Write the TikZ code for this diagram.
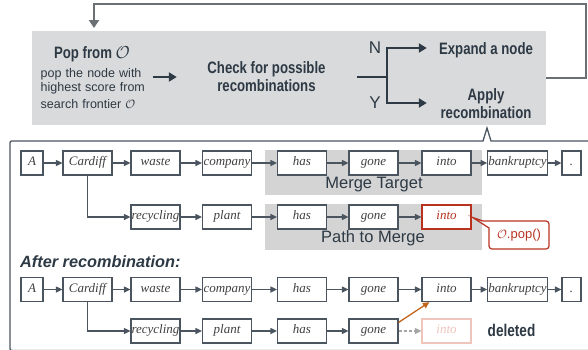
\documentclass[tikz,border=0pt]{standalone}
\usepackage{fontspec}
\setmainfont{Liberation Sans}
\newfontfamily\headfont[FakeStretch=0.8]{Liberation Sans}
\newfontfamily\wordfont{Liberation Serif}
\usetikzlibrary{arrows.meta,calc}

\definecolor{slate}{HTML}{2D3944}
\definecolor{boxline}{HTML}{4A5560}
\definecolor{ctrlgray}{HTML}{D9DADB}
\definecolor{mergegray}{HTML}{D4D4D4}
\definecolor{loopgray}{HTML}{6B7074}
\definecolor{popred}{HTML}{B8321F}
\definecolor{fadered}{HTML}{EEC4BB}
\definecolor{mergeorange}{HTML}{C2651A}

\tikzset{
  word/.style={draw=boxline,fill=white,line width=1.2pt,minimum width=49,minimum height=24,inner sep=0.5pt,
    text height=8.5,text depth=3,font=\wordfont\itshape\fontsize{13}{14}\selectfont,text=black!75},
  link/.style={-{Triangle[width=6pt,length=6.5pt]},draw=boxline,line width=1.2pt},
  head/.style={font=\headfont\bfseries\fontsize{16.5}{18}\selectfont,text=slate,align=center},
  flow/.style={-{Triangle[width=9pt,length=8pt]},draw=slate,line width=2.5pt},
  shadetext/.style={font=\fontsize{16.5}{18}\selectfont,text=slate},
}

\begin{document}
\begin{tikzpicture}[x=1pt,y=-1pt]
  \useasboundingbox (0,0) rectangle (588,349);

  % search loop
  \node[fill=ctrlgray,minimum width=514,minimum height=94,inner sep=0] (ctrl) at (289,78) {};
  \node[head,anchor=base] (pophead) at (92,58) {Pop from $\mathcal{O}$};
  \node[anchor=north west,inner sep=0,text width=112,align=left,text=slate,
    font=\fontsize{12.5}{14}\selectfont] (poptext) at (40.5,68)
    {pop the node with\\ highest score from\\[3pt] search frontier $\mathcal{O}$};
  \node[head,minimum width=173] (check) at (266.5,77) {Check for possible\\ recombinations};
  \coordinate (fork) at (387,77);
  \node[head,minimum width=118] (expand) at (486,50) {Expand a node};
  \node[head,minimum width=118] (apply) at (486,104) {Apply\\ recombination};
  \node[font=\fontsize{17}{17}\selectfont,text=slate] (nlab) at (375,48) {N};
  \node[font=\fontsize{17}{17}\selectfont,text=slate] (ylab) at (375,103) {Y};

  \draw[flow,shorten >=3pt] (check.west -| poptext.east) -- (check.west);
  \draw[flow,-] (check.east) ++(4,0) -- (fork);
  \draw[flow] (fork) |- (nlab.east -| expand.west);
  \draw[flow] (fork) |- (ylab.east -| apply.west);

  % back to the frontier
  \coordinate (loopR) at (586,4);
  \coordinate (popin) at (94,28);
  \draw[-{Triangle[width=10pt,length=8pt]},draw=loopgray,line width=2.5pt] (ctrl.east) -| (loopR) -| (popin);

  % lower panel
  \draw[boxline,line width=1.3pt] (600,141) -- (491,141) -- (487,128) -- (483,141) -- (14,141)
    .. controls (10,141) .. (10,145) -- (10,346.5) .. controls (10,350.5) .. (14,350.5) -- (600,350.5);

  \fill[mergegray] (265,150) rectangle (482,195);
  \fill[mergegray] (265,204) rectangle (482,250);
  \node[shadetext] (mtarget) at (374,184.5) {Merge Target};
  \node[shadetext] (mpath) at (373,238.5) {Path to Merge};

  \node[word,minimum width=22] (a1) at (32,163) {A};
  \node[word] (cardiff1) at (87.5,163) {Cardiff};
  \node[word] (waste1) at (155.5,163) {waste};
  \node[word] (company1) at (227,163) {company};
  \node[word] (has1) at (302,163) {has};
  \node[word] (gone1) at (373.5,163) {gone};
  \node[word] (into1) at (446.5,163) {into};
  \node[word] (bank1) at (517.5,163) {bankruptcy};
  \node[word,minimum width=19] (dot1) at (571.5,163) {.};

  \node[word] (recyc2) at (155.5,217) {recycling};
  \node[word] (plant2) at (227,217) {plant};
  \node[word] (has2) at (302,217) {has};
  \node[word] (gone2) at (373.5,217) {gone};
  \node[word,draw=popred,text=popred] (into2) at (446.5,217) {into};

  \draw[link] (a1) -- (cardiff1);
  \draw[link] (cardiff1) -- (waste1);
  \draw[link] (waste1) -- (company1);
  \draw[link] (company1) -- (has1);
  \draw[link] (has1) -- (gone1);
  \draw[link] (gone1) -- (into1);
  \draw[link] (into1) -- (bank1);
  \draw[link] (bank1) -- (dot1);
  \draw[link] (cardiff1.south) |- (recyc2.west);
  \draw[link] (recyc2) -- (plant2);
  \draw[link] (plant2) -- (has2);
  \draw[link] (has2) -- (gone2);
  \draw[link] (gone2) -- (into2);

  % pop callout
  \coordinate (ptip) at ($(into2.north east)+(1,13)$);
  \draw[popred,line width=1.2pt] (ptip) -- (483,221) [rounded corners=3pt] -- (549,221) -- (549,249)
    -- (489,249) [sharp corners] -- (489,228) -- cycle;
  \node[text=popred,font=\fontsize{13}{14}\selectfont] (popcall) at (519,235.5) {$\mathcal{O}$.pop()};

  \node[anchor=base west,inner sep=0,font=\bfseries\itshape\fontsize{16.3}{18}\selectfont,text=slate]
    (after) at (20,267) {After recombination:};

  \node[word,minimum width=22] (a3) at (32,289.5) {A};
  \node[word] (cardiff3) at (87.5,289.5) {Cardiff};
  \node[word] (waste3) at (155.5,289.5) {waste};
  \node[word] (company3) at (227,289.5) {company};
  \node[word] (has3) at (302,289.5) {has};
  \node[word] (gone3) at (373.5,289.5) {gone};
  \node[word] (into3) at (446.5,289.5) {into};
  \node[word] (bank3) at (517.5,289.5) {bankruptcy};
  \node[word,minimum width=19] (dot3) at (571.5,289.5) {.};

  \node[word] (recyc4) at (155.5,331) {recycling};
  \node[word] (plant4) at (227,331) {plant};
  \node[word] (has4) at (302,331) {has};
  \node[word] (gone4) at (373.5,331) {gone};
  \node[word,draw=fadered,text=fadered] (into4) at (446.5,331) {into};
  \node[head,font=\headfont\bfseries\fontsize{17}{18}\selectfont] (deleted) at (511.5,330) {deleted};

  \draw[link] (a3) -- (cardiff3);
  \draw[link] (cardiff3) -- (waste3);
  \draw[link] (waste3) -- (company3);
  \draw[link] (company3) -- (has3);
  \draw[link] (has3) -- (gone3);
  \draw[link] (gone3) -- (into3);
  \draw[link] (into3) -- (bank3);
  \draw[link] (bank3) -- (dot3);
  \draw[link] (cardiff3.south) |- (recyc4.west);
  \draw[link] (recyc4) -- (plant4);
  \draw[link] (plant4) -- (has4);
  \draw[link] (has4) -- (gone4);
  \draw[link,draw=black!35,dash pattern=on 3pt off 2pt] (gone4) -- (into4);
  \draw[link,draw=mergeorange,line width=1.3pt] ($(gone4.north east)+(0,4)$) -- ($(into3.south west)+(8,0)$);
\end{tikzpicture}
\end{document}
